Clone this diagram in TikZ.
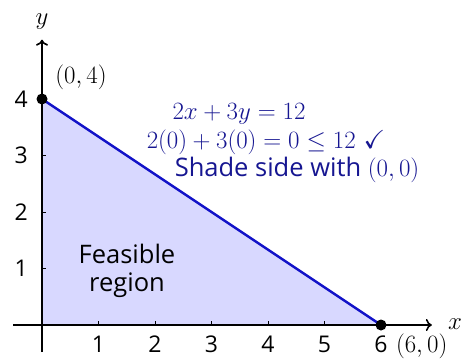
\documentclass[tikz,border=0pt]{standalone}
\usepackage{amssymb}
\usepackage{fontspec}
\setsansfont{Open Sans}
\usetikzlibrary{arrows.meta}
\definecolor{regionfill}{RGB}{216,216,255}
\definecolor{linecol}{RGB}{18,18,200}
\definecolor{txtcol}{RGB}{22,22,145}
\tikzset{
  lbl/.style={font=\fontsize{26}{30}\selectfont, inner sep=0pt},
  ticklbl/.style={font=\sffamily\fontsize{23}{26}\selectfont, inner sep=0pt},
  sflbl/.style={font=\sffamily\fontsize{25.5}{28}\selectfont, inner sep=0pt},
  axisline/.style={line width=1.6pt, -{To[length=6pt,width=12pt]}},
  tick/.style={line width=0.8pt},
  dot/.style={circle, fill=black, inner sep=0pt, minimum size=11pt}
}
\begin{document}
\begin{tikzpicture}[x=56.5pt,y=56.5pt]
\useasboundingbox (-0.7434,-0.6195) rectangle (7.4336,5.7522);
\fill[regionfill] (0,0) -- (6,0) -- (0,4) -- cycle;
\coordinate (xs) at (-0.51,0);
\coordinate (xe) at (6.9,0);
\coordinate (ys) at (0,-0.48);
\coordinate (ye) at (0,5.05);
\draw[axisline] (xs) -- (xe);
\draw[axisline] (ys) -- (ye);
\foreach \i in {1,...,5} {
  \draw[tick] (\i,0) -- (\i,0.07);
  \node[ticklbl, anchor=base] at (\i,-0.49) {\i};
}
\node[ticklbl, anchor=base] at (6,-0.49) {6};
\foreach \i in {1,...,4} {
  \draw[tick] (0,\i) -- (0.07,\i);
  \node[ticklbl] at (-0.37,\i) {\i};
}
\coordinate (A) at (0,4);
\coordinate (B) at (6,0);
\draw[linecol, line width=2.4pt] (A) -- (B);
\node[dot] (dA) at (A) {};
\node[dot] (dB) at (B) {};
\node[lbl] (ylab) at (0,5.37) {$y$};
\node[lbl] (xlab) at (7.31,0.02) {$x$};
\node[lbl] (pA) at (0.69,4.39) {$(0,4)$};
\node[lbl] (pB) at (6.72,-0.37) {$(6,0)$};
\node[lbl, text=txtcol] (eq1) at (3.487,3.735) {$2x+3y=12$};
\node[lbl, text=txtcol] (eq2) at (3.965,3.239) {$2(0)+3(0)=0\leq 12\ \checkmark$};
\node[sflbl, text=txtcol] (eq3) at (4.513,2.743) {Shade side with $(0,0)$};
\node[sflbl, align=center] (feas) at (1.504,0.95) {Feasible\\region};
\end{tikzpicture}
\end{document}
